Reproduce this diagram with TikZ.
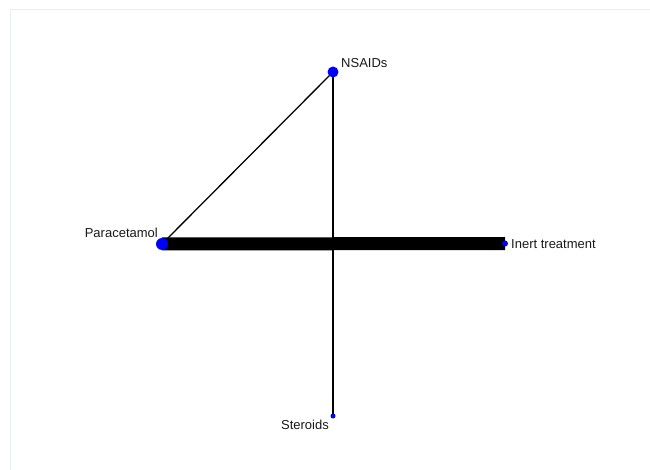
\documentclass[tikz,border=0pt]{standalone}
\usepackage{fontspec}
\setsansfont{Liberation Sans}
\usepackage{tikz}
\usetikzlibrary{positioning,backgrounds}
\definecolor{nwdot}{RGB}{0,0,255}
\definecolor{nwedge}{RGB}{0,0,0}
\definecolor{nwpanel}{RGB}{232,238,238}
\tikzset{
  trt/.style={circle, fill=nwdot, inner sep=0pt},
  lbl/.style={font=\sffamily\fontsize{13}{15}\selectfont, text=black!90, inner sep=0pt},
  comp/.style={draw=nwedge, line cap=butt},
  panel/.style={draw=nwpanel, line width=1pt}
}
\begin{document}
\begin{tikzpicture}[x=1pt, y=-1pt]
  \useasboundingbox (0,0) rectangle (650,470);
  % treatments
  \node[trt, minimum size=11pt] (nsaids) at (333,72) {};
  \node[trt, minimum size=12pt] (para) at (162,244) {};
  \node[trt, minimum size=6pt] (inert) at (505,243.5) {};
  \node[trt, minimum size=5pt] (ster) at (333,416) {};
  % names
  \node[lbl, anchor=west] (nsaidslbl) at ([shift={(8,-9)}]nsaids.center) {NSAIDs};
  \node[lbl, anchor=east] (paralbl) at ([shift={(-4,-11)}]para.center) {Paracetamol};
  \node[lbl, anchor=west] (inertlbl) at ([shift={(6,0.5)}]inert.center) {Inert treatment};
  \node[lbl, anchor=east] (sterlbl) at ([shift={(-4,9)}]ster.center) {Steroids};
  % comparisons
  \begin{scope}[on background layer]
    \draw[panel] (10,470) -- (10,10) -- (650,10);
    \draw[comp, line width=13pt] (para.center) -- (inert.center);
    \draw[comp, line width=1.3pt] (para.center) -- (nsaids.center);
    \draw[comp, line width=1.3pt] (nsaids.center) -- (ster.center);
  \end{scope}
\end{tikzpicture}
\end{document}
